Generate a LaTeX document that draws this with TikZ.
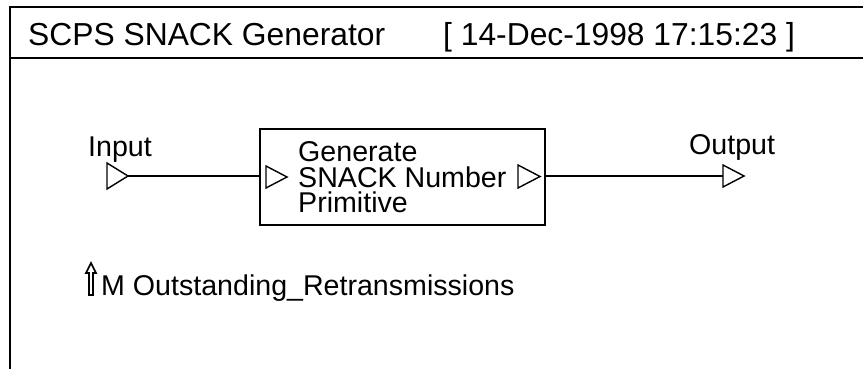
\documentclass[tikz,border=0pt]{standalone}
\usepackage{fontspec}
\setmainfont{Liberation Sans}
\begin{document}
\begin{tikzpicture}[x=1pt,y=-1pt,
  frame/.style={line width=1.8pt},
  wire/.style={line width=1.6pt},
  port/.style={line width=1.4pt, fill=white},
  headtext/.style={font=\fontsize{31.8}{37}\selectfont, inner sep=0pt, anchor=base west},
  bodytext/.style={font=\fontsize{28.6}{25.5}\selectfont, inner sep=0pt, anchor=base west},
  block/.style={draw, line width=1.8pt, minimum width=285pt, minimum height=96pt, inner sep=0pt}]
\useasboundingbox (0,0) rectangle (863,369);

% window frame and header bar
\draw[frame] (10,369) -- (10,7) -- (863,7);
\draw[frame] (10,58) -- (863,58);
\node[headtext] (title) at (28,46) {SCPS SNACK Generator};
\node[headtext] (stamp) at (443,46) {[ 14-Dec-1998 17:15:23 ]};

% primitive block
\node[block] (blk) at (402.5,177) {};
\node[font=\fontsize{28.6}{25.5}\selectfont, inner sep=0pt, anchor=west, align=left]
  (blktext) at (298,177.5) {Generate\\SNACK Number\\Primitive};

% external input port
\node[bodytext] (inlabel) at (88,156) {Input};
\coordinate (intip) at (128,176);
\draw[port] (107,163) -- (intip) -- (107,189) -- cycle;

% block ports
\draw[port] (266,166) -- (287,177) -- (266,188) -- cycle;
\draw[port] (518,165) -- (540,176.5) -- (518,188) -- cycle;

% external output port
\node[bodytext] (outlabel) at (689,154) {Output};
\coordinate (outbase) at (723,176);
\draw[port] (723,165) -- (744,176) -- (723,187) -- cycle;

% connectors
\draw[wire] (intip) -- (intip -| blk.west);
\draw[wire] (blk.east |- outbase) -- (outbase);

% monitored variable
\draw[line width=1.6pt, line join=miter] (91,263) -- (86,273) -- (89,273) -- (89,295) -- (93,295) -- (93,273) -- (96,273) -- cycle;
\node[bodytext] (monitor) at (101,295) {M Outstanding\_Retransmissions};
\end{tikzpicture}
\end{document}
